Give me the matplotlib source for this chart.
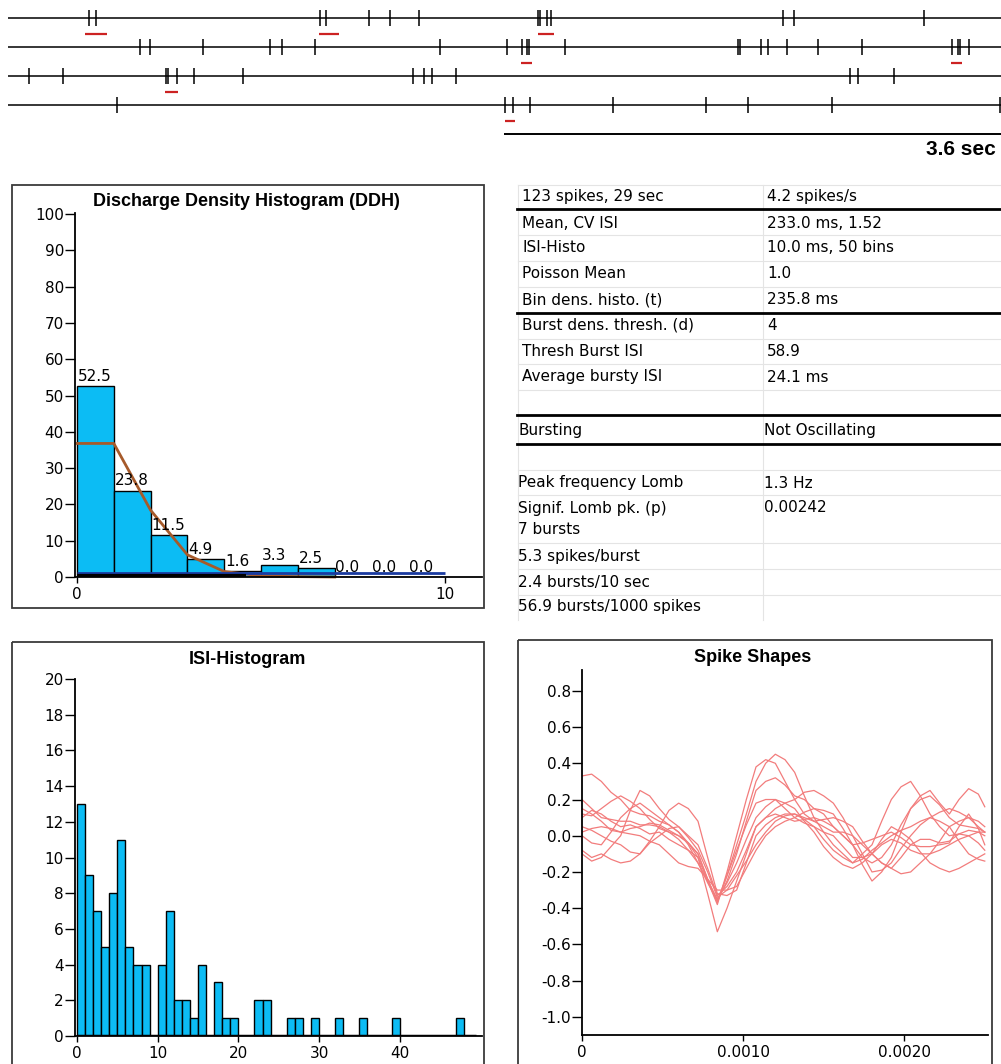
import matplotlib
matplotlib.use("Agg")
import matplotlib.pyplot as plt
from matplotlib.patches import Rectangle

W, H = 1001, 1064

# spike raster: spike times (s) within each 7.2 s row
row_len = 7.2
scale_bar = 3.6
raster_rows = [
    [0.588, 0.639, 2.264, 2.308, 2.620, 2.772, 2.983, 3.846, 3.861, 3.911, 3.941,
     5.624, 5.704, 6.647],
    [0.958, 1.030, 1.415, 1.901, 1.988, 2.228, 3.135, 3.621, 3.730, 3.767, 3.782,
     4.042, 5.298, 5.313, 5.464, 5.515, 5.653, 5.878, 6.197, 6.850, 6.894, 6.909, 6.974],
    [0.152, 0.399, 1.146, 1.161, 1.226, 1.350, 1.705, 2.939, 3.019, 3.077, 3.251,
     6.110, 6.168, 6.430],
    [0.791, 3.607, 3.665, 3.788, 4.390, 5.065, 5.370, 5.980, 7.199],
]
burst_rows = [
    [(0.559, 0.718), (2.257, 2.402), (3.846, 3.962)],
    [(3.723, 3.803), (6.843, 6.923)],
    [(1.139, 1.234)],
    [(3.607, 3.679)],
]

# discharge density histogram
ddh_bins = list(range(10))
ddh_vals = [52.5, 23.8, 11.5, 4.9, 1.6, 3.3, 2.5, 0.0, 0.0, 0.0]
poisson_x = [0, 1, 2, 3, 4, 5, 6, 7]
poisson_vals = [36.8, 36.8, 18.4, 6.1, 1.5, 0.3, 0.1, 0.0]

# ISI histogram, 10 ms bins
isi_counts = [13, 9, 7, 5, 8, 11, 5, 4, 4, 0,
              4, 7, 2, 2, 1, 4, 0, 3, 1, 1,
              0, 0, 2, 2, 0, 0, 1, 1, 0, 1,
              0, 0, 1, 0, 0, 1, 0, 0, 0, 1,
              0, 0, 0, 0, 0, 0, 0, 1, 0, 0]

# spike shapes: samples every 0.06 ms, amplitude
shape_t = [round(i * 0.06, 2) for i in range(42)] + [2.50]
shapes = [
    [.33, .34, .30, .24, .20, .14, .12, .11, .08, .06, .02, -.05, -.15, -.26, -.36, -.25, -.10, .08, .25, .30,
     .32, .28, .22, .20, .15, .12, .05, .00, -.05, -.12, -.15, -.12, -.05, .06, .15, .20, .22, .17, .10, .06,
     .05, .04, .02],
    [.15, .12, .08, .03, .02, .04, .05, .07, .06, .03, .00, -.04, -.10, -.24, -.37, -.22, -.05, .12, .30, .40,
     .45, .42, .35, .22, .10, .02, -.05, -.10, -.15, -.13, -.08, -.04, .00, .03, .05, .08, .10, .13, .15, .13,
     .10, .05, .02],
    [.10, .14, .12, .08, .05, .06, .04, .01, .02, -.02, -.05, -.08, -.12, -.25, -.38, -.20, .00, .20, .38, .42,
     .40, .30, .20, .12, .08, .09, .10, .08, .05, -.03, -.10, -.15, -.18, -.12, -.05, -.02, -.02, -.04, -.03, .01,
     .00, -.04, -.08],
    [.00, -.04, -.05, .02, .10, .15, .18, .14, .10, .06, .02, -.04, -.12, -.32, -.53, -.40, -.25, -.10, .05, .10,
     .15, .18, .20, .24, .25, .22, .18, .10, .00, -.10, -.20, -.19, -.15, -.07, .00, .06, .10, .08, .05, -.03,
     -.10, -.13, -.14],
    [-.10, -.14, -.12, -.06, .00, .14, .25, .22, .15, .09, .05, .00, -.05, -.18, -.33, -.28, -.20, -.08, .05, .10,
     .12, .10, .08, .09, .10, .08, .05, .00, -.05, -.16, -.25, -.20, -.12, .02, .15, .22, .25, .18, .12, .20,
     .26, .23, .16],
    [.05, .03, .00, -.03, -.05, -.09, -.10, -.03, .05, .14, .18, .15, .08, -.12, -.32, -.33, -.30, -.15, .00, .06,
     .10, .12, .12, .09, .05, .02, .00, -.06, -.12, -.12, -.10, -.02, .05, .02, -.02, -.09, -.15, -.18, -.20, -.18,
     -.15, -.12, -.10],
    [.20, .15, .10, .09, .08, .08, .06, .06, .05, .02, -.02, -.08, -.15, -.25, -.35, -.26, -.15, -.02, .10, .16,
     .20, .15, .10, .07, .05, -.02, -.08, -.12, -.15, -.10, -.05, .08, .20, .27, .30, .22, .12, .05, .00, .01,
     .03, .02, .00],
    [-.08, -.12, -.10, -.13, -.15, -.14, -.10, -.04, .00, .04, .05, -.01, -.08, -.20, -.34, -.30, -.22, -.14, -.05, .02,
     .08, .11, .12, .10, .08, .05, .02, .02, .00, -.05, -.10, -.15, -.18, -.21, -.20, -.15, -.10, -.08, -.05, -.02,
     .00, .02, .02],
    [.12, .11, .15, .19, .22, .19, .15, .09, .04, .02, .00, -.04, -.10, -.24, -.36, -.22, -.08, .06, .18, .20,
     .20, .18, .15, .08, .02, -.06, -.12, -.16, -.18, -.15, -.10, -.05, -.02, -.04, -.08, -.10, -.10, -.03, .05, .08,
     .10, .08, .05],
    [.02, .04, .05, .04, .02, .01, .00, -.03, -.05, -.10, -.15, -.17, -.18, -.24, -.30, -.30, -.28, -.18, -.08, .00,
     .05, .08, .10, .13, .15, .14, .12, .04, -.05, -.04, -.02, .00, .02, -.01, -.05, -.06, -.06, -.05, -.04, .05,
     .12, .04, -.05],
]

# stats table
stat_left = ["123 spikes, 29 sec", "Mean, CV ISI", "ISI-Histo", "Poisson Mean",
             "Bin dens. histo. (t)", "Burst dens. thresh. (d)", "Thresh Burst ISI",
             "Average bursty ISI", "", "Bursting", "", "Peak frequency Lomb",
             "Signif. Lomb pk. (p)", "7 bursts", "5.3 spikes/burst",
             "2.4 bursts/10 sec", "56.9 bursts/1000 spikes"]
stat_right = ["4.2 spikes/s", "233.0 ms, 1.52", "10.0 ms, 50 bins", "1.0", "235.8 ms",
              "4", "58.9", "24.1 ms", "", "Not Oscillating", "", "1.3 Hz", "0.00242",
              "", "", "", ""]

plt.rcParams['font.family'] = 'DejaVu Sans'
plt.rcParams['font.size'] = 11
bar_blue = '#0cbcf4'
frame_col = '#3a3a3a'
title_font = dict(family=['Liberation Sans', 'DejaVu Sans'], weight='bold', size=13)

fig = plt.figure(figsize=(W / 100, H / 100), dpi=100)


def px_axes(x0, y0, x1, y1, **kw):
    return fig.add_axes([x0 / W, 1 - y1 / H, (x1 - x0) / W, (y1 - y0) / H], **kw)


# background layer in pixel coordinates: frames, titles, table
bg = px_axes(0, 0, W, H)
bg.set_xlim(0, W)
bg.set_ylim(H, 0)
bg.axis('off')

for (x0, y0, x1, y1) in [(12, 185, 484, 608), (12, 642, 484, 1090), (518, 640, 992, 1090)]:
    bg.add_patch(Rectangle((x0, y0), x1 - x0, y1 - y0, fill=False, ec=frame_col, lw=1.3))
bg.text(246, 201, "Discharge Density Histogram (DDH)", ha='center', va='center', **title_font)
bg.text(247, 659, "ISI-Histogram", ha='center', va='center', **title_font)
bg.text(753, 658, "Spike Shapes", ha='center', va='center', **title_font)

# table
row_y = [197, 223, 248, 274, 300, 325, 351, 377, 401, 431, 457, 483, 508, 530, 556, 582, 607]
for yy in [185, 235, 261, 287, 339, 364, 390, 470, 495, 543, 569, 595]:
    bg.plot([518, W], [yy, yy], color='#e4e4e4', lw=0.8)
bg.plot([518, 518], [185, 620], color='#e4e4e4', lw=0.8)
bg.plot([763, 763], [185, 620], color='#e4e4e4', lw=0.8)
for yy in [209, 313, 415, 444]:
    bg.plot([517, W], [yy, yy], color='black', lw=2)
for i, (lt, rt) in enumerate(zip(stat_left, stat_right)):
    xl, xr = (522, 767) if i < 9 else (518, 764)
    bg.text(xl, row_y[i], lt, ha='left', va='center', fontsize=11)
    bg.text(xr, row_y[i], rt, ha='left', va='center', fontsize=11)

# raster
ax = px_axes(0, 0, W, 165)
ax.patch.set_alpha(0)
ax.set_xlim(-8 / 137.8, 993 / 137.8)
ax.set_ylim(5.069, -0.621)
ax.axis('off')
for i, times in enumerate(raster_rows):
    ax.hlines(i, 0, row_len + 0.01, color='black', lw=1.1)
    ax.vlines(times, i - 0.276, i + 0.276, color='black', lw=1.1)
    for s, e in burst_rows[i]:
        ax.hlines(i + 0.55, s, e, color='#cc2222', lw=1.6)
ax.hlines(4.0, row_len - scale_bar, row_len + 0.01, color='black', lw=1.4)
ax.text(row_len - 0.03, 4.52, f"{scale_bar} sec", ha='right', va='center',
        family=['Liberation Sans', 'DejaVu Sans'], weight='bold', size=15)


def style_axes(a):
    a.patch.set_alpha(0)
    for s in ['top', 'right']:
        a.spines[s].set_visible(False)
    for s in ['left', 'bottom']:
        a.spines[s].set_linewidth(1.3)
    a.tick_params(axis='y', direction='out', length=7, width=1, pad=1, labelsize=11)
    a.tick_params(axis='x', direction='out', length=4, width=1, pad=3, labelsize=11)


# DDH
ax = px_axes(75, 213, 482, 577)
style_axes(ax)
ax.set_xlim(-0.054, 11.0)
ax.set_ylim(0, 100.3)
ax.bar(ddh_bins, ddh_vals, width=1, align='edge', color=bar_blue, edgecolor='black', lw=1, zorder=2)
ax.plot(poisson_x, poisson_vals, color='#a65a2a', lw=2, zorder=2.5, clip_on=False)
ax.hlines(1.0, 0, 10, color='#1a3aa0', lw=2, zorder=3)
ax.hlines(0.3, 0, 4.6, color='black', lw=3, zorder=3)
for b, v in zip(ddh_bins, ddh_vals):
    ax.text(b + 0.02, v + 0.6, f"{v:.1f}", ha='left', va='bottom', fontsize=11, zorder=5)
ax.set_yticks(range(0, 101, 10))
ax.set_xticks([0, 10])

# ISI histogram
ax = px_axes(75, 679, 482, 1036)
style_axes(ax)
ax.set_xlim(-0.25, 50.2)
ax.set_ylim(0, 20)
ax.bar(range(len(isi_counts)), isi_counts, width=1, align='edge', color=bar_blue,
       edgecolor='black', lw=1, zorder=2)
ax.hlines(0, 0, len(isi_counts) - 0.5, color='black', lw=2.5, zorder=3)
ax.set_yticks(range(0, 21, 2))
ax.set_xticks(range(0, 41, 10))

# spike shapes
ax = px_axes(582, 670, 988, 1035)
style_axes(ax)
ax.set_xlim(0, 0.00252)
ax.set_ylim(-1.1, 0.915)
for tr in shapes:
    ax.plot([t / 1000 for t in shape_t], tr, color='#f27c7c', lw=0.9)
yt = [-1.0, -0.8, -0.6, -0.4, -0.2, 0.0, 0.2, 0.4, 0.6, 0.8]
ax.set_yticks(yt)
ax.set_yticklabels([f"{v:.1f}" for v in yt])
ax.set_xticks([0, 0.001, 0.002])
ax.set_xticklabels(["0", "0.0010", "0.0020"])

fig.savefig("out.png", dpi=100)
